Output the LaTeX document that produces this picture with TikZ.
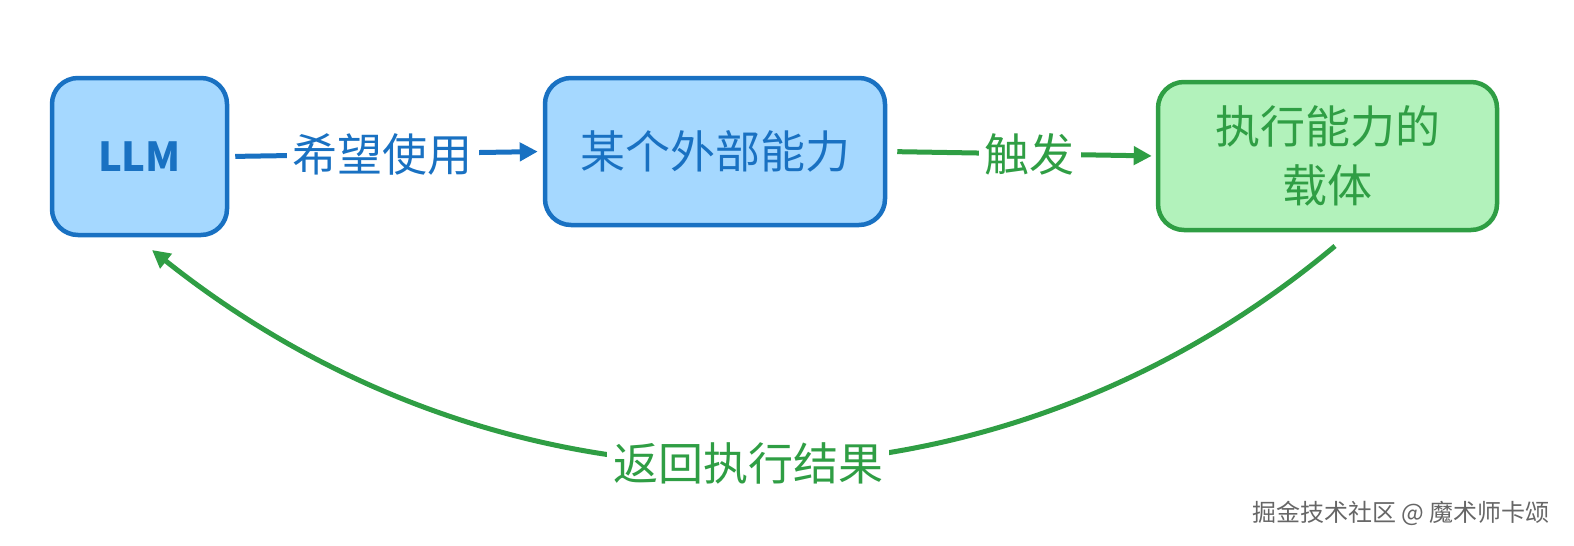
\documentclass[tikz,border=0pt]{standalone}
\usepackage{fontspec}
\newfontfamily\cjk{Noto Sans CJK SC}
\usetikzlibrary{arrows.meta}
\definecolor{bstroke}{HTML}{1971C2}
\definecolor{bfill}{HTML}{A5D8FF}
\definecolor{gstroke}{HTML}{2F9E44}
\definecolor{gfill}{HTML}{B2F2BB}
\tikzset{
  box/.style={rounded corners=26pt, line width=4.5pt, align=center, inner sep=0pt, font=\cjk\fontsize{45}{59}\selectfont},
  bluebox/.style={box, draw=bstroke, fill=bfill, text=bstroke},
  greenbox/.style={box, draw=gstroke, fill=gfill, text=gstroke},
  conn/.style={line width=5pt, -{Triangle[length=18pt,width=18pt]}},
  lbl/.style={fill=white, inner sep=6pt, font=\cjk\fontsize{45}{54}\selectfont},
}
\begin{document}
\begin{tikzpicture}[x=1pt,y=-1pt]
\useasboundingbox (0,0) rectangle (1574,546);
\node[bluebox, minimum width=175pt, minimum height=157pt, font=\cjk\bfseries\fontsize{40}{46}\selectfont] (llm) at (139.5,156.5) {LLM};
\node[bluebox, minimum width=340pt, minimum height=147pt] (ext) at (715,151.5) {某个外部能力};
\node[greenbox, minimum width=339pt, minimum height=148pt] (carrier) at (1327.5,156) {执行能力的\\载体};
\draw[conn, bstroke, shorten <=6pt, shorten >=5pt] (llm.east) -- node[lbl, text=bstroke, pos=0.49] (l1) {希望使用} (ext.west);
\draw[conn, gstroke, shorten <=10pt, shorten >=4pt] (ext.east) -- node[lbl, text=gstroke, pos=0.53] (l2) {触发} (carrier.west);
\coordinate (cs) at (1335,246);
\coordinate (ce) at (152,250);
\draw[conn, gstroke] (cs) .. controls (990,535) and (510,535) .. node[lbl, text=gstroke, pos=0.5] (l3) {返回执行结果} (ce);
\node[font=\cjk\fontsize{24}{28}\selectfont, text=black!60, anchor=east] (wm) at (1553,513) {掘金技术社区 @ 魔术师卡颂};
\end{tikzpicture}
\end{document}
